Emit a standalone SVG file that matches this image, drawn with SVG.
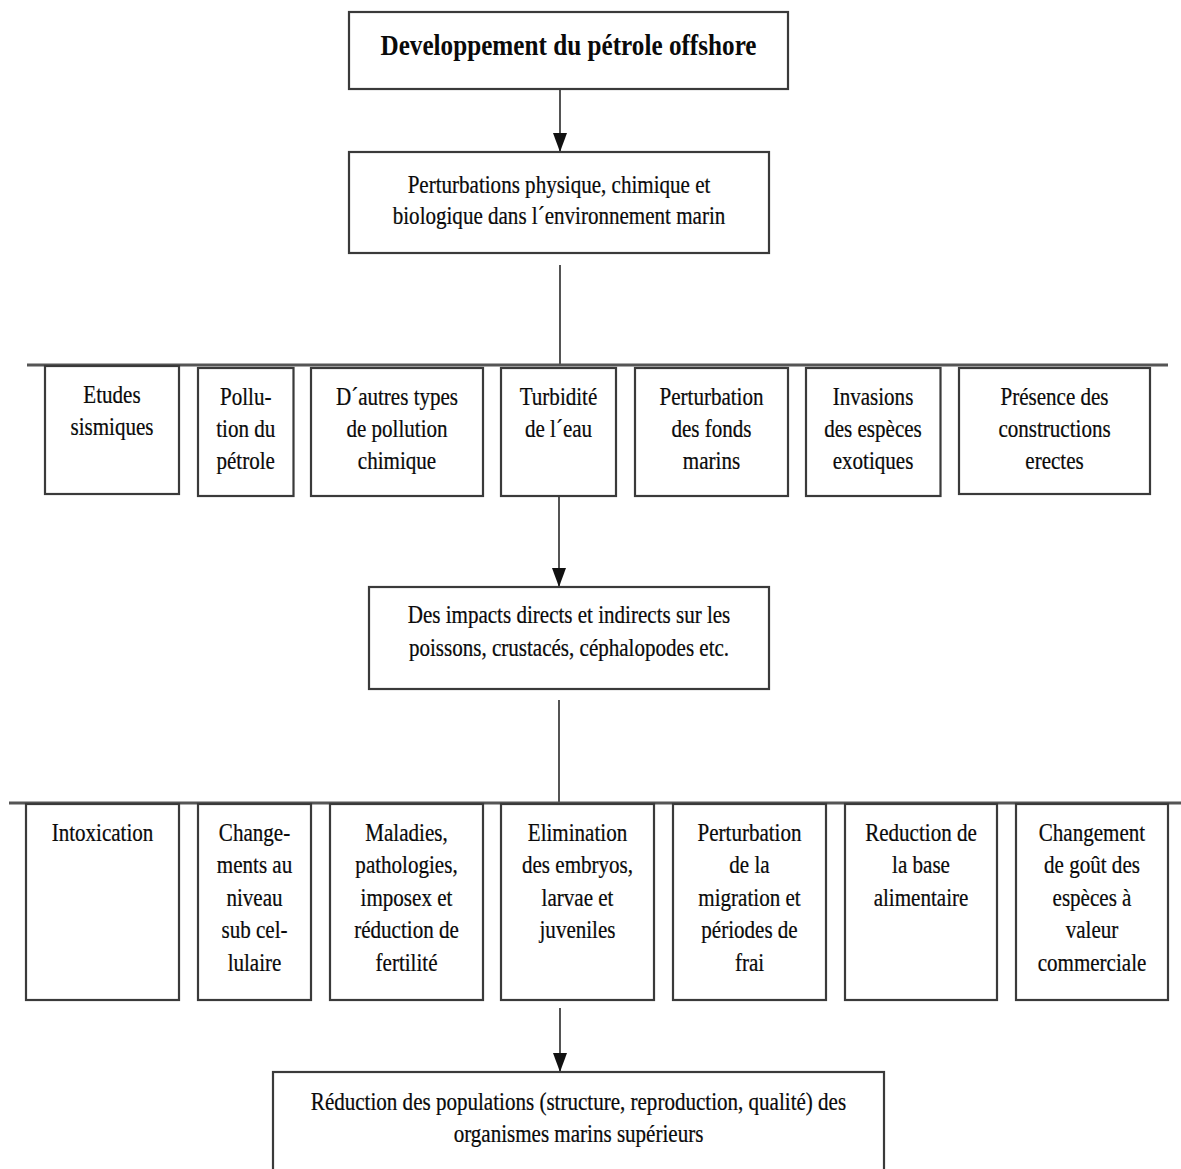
<svg xmlns="http://www.w3.org/2000/svg" width="1181" height="1169" viewBox="0 0 1181 1169">
<defs>
<style>
.box{fill:#fff;stroke:#3a3a3a;stroke-width:2.2}
.t{font-family:"Liberation Serif","Times New Roman",serif;font-size:26px;fill:#0a0a0a;stroke:#0a0a0a;stroke-width:0.25;text-anchor:middle}
.title{font-family:"Liberation Serif","Times New Roman",serif;font-size:30px;font-weight:bold;fill:#0a0a0a;text-anchor:middle}
.ln{stroke:#2a2a2a;stroke-width:1.6;fill:none}
.bar{stroke:#555;stroke-width:3.2;fill:none}
</style>
<marker id="arr" markerUnits="userSpaceOnUse" markerWidth="19" markerHeight="14" refX="19" refY="7" orient="auto" viewBox="0 0 19 14">
<path d="M0,0 L19,7 L0,14 Z" fill="#111"/>
</marker>
</defs>
<rect width="1181" height="1169" fill="#fff"/>

<g id="connectors">
<line class="ln" x1="560" y1="89" x2="560" y2="152" marker-end="url(#arr)"/>
<line class="ln" x1="560" y1="265" x2="560" y2="365"/>
<line class="bar" x1="27" y1="365" x2="1168" y2="365"/>
<line class="ln" x1="559" y1="496" x2="559" y2="587" marker-end="url(#arr)"/>
<line class="ln" x1="559" y1="700" x2="559" y2="803"/>
<line class="bar" x1="9" y1="803" x2="1181" y2="803"/>
<line class="ln" x1="560" y1="1008" x2="560" y2="1072" marker-end="url(#arr)"/>
</g>

<g id="n-top">
<rect class="box" x="349" y="12" width="439" height="77"/>
<g transform="translate(568.5 0) scale(0.84 1)"><text class="title" x="0" y="55">Developpement du pétrole offshore</text></g>
</g>

<g id="n-perturbations">
<rect class="box" x="349" y="152" width="420" height="101"/>
<g transform="translate(559 0) scale(0.81 1)">
<text class="t" x="0" y="193">Perturbations physique, chimique et</text>
<text class="t" x="0" y="224">biologique dans l´environnement marin</text>
</g>
</g>

<g id="n-etudes">
<rect class="box" x="45" y="366" width="134" height="128"/>
<g transform="translate(112 0) scale(0.81 1)">
<text class="t" x="0" y="403">Etudes</text>
<text class="t" x="0" y="435">sismiques</text>
</g>
</g>

<g id="n-pollution">
<rect class="box" x="198" y="368" width="95.5" height="128"/>
<g transform="translate(245.7 0) scale(0.81 1)">
<text class="t" x="0" y="405">Pollu-</text>
<text class="t" x="0" y="437">tion du</text>
<text class="t" x="0" y="469">pétrole</text>
</g>
</g>

<g id="n-autres">
<rect class="box" x="311" y="368" width="172" height="128"/>
<g transform="translate(397 0) scale(0.81 1)">
<text class="t" x="0" y="405">D´autres types</text>
<text class="t" x="0" y="437">de pollution</text>
<text class="t" x="0" y="469">chimique</text>
</g>
</g>

<g id="n-turbidite">
<rect class="box" x="501" y="368" width="115" height="128"/>
<g transform="translate(558.5 0) scale(0.81 1)">
<text class="t" x="0" y="405">Turbidité</text>
<text class="t" x="0" y="437">de l´eau</text>
</g>
</g>

<g id="n-fonds">
<rect class="box" x="635" y="368" width="153" height="128"/>
<g transform="translate(711.5 0) scale(0.81 1)">
<text class="t" x="0" y="405">Perturbation</text>
<text class="t" x="0" y="437">des fonds</text>
<text class="t" x="0" y="469">marins</text>
</g>
</g>

<g id="n-invasions">
<rect class="box" x="806" y="368" width="134.5" height="128"/>
<g transform="translate(873 0) scale(0.81 1)">
<text class="t" x="0" y="405">Invasions</text>
<text class="t" x="0" y="437">des espèces</text>
<text class="t" x="0" y="469">exotiques</text>
</g>
</g>

<g id="n-presence">
<rect class="box" x="959" y="368" width="191" height="126"/>
<g transform="translate(1054.5 0) scale(0.81 1)">
<text class="t" x="0" y="405">Présence des</text>
<text class="t" x="0" y="437">constructions</text>
<text class="t" x="0" y="469">erectes</text>
</g>
</g>

<g id="n-impacts">
<rect class="box" x="369" y="587" width="400" height="102"/>
<g transform="translate(569 0) scale(0.81 1)">
<text class="t" x="0" y="623">Des impacts directs et indirects sur les</text>
<text class="t" x="0" y="656">poissons, crustacés, céphalopodes etc.</text>
</g>
</g>

<g id="n-intoxication">
<rect class="box" x="26" y="804" width="153" height="196"/>
<g transform="translate(102.5 0) scale(0.81 1)">
<text class="t" x="0" y="841">Intoxication</text>
</g>
</g>

<g id="n-changements">
<rect class="box" x="198" y="804" width="113" height="196"/>
<g transform="translate(254.5 0) scale(0.81 1)">
<text class="t" x="0" y="841">Change-</text>
<text class="t" x="0" y="873.5">ments au</text>
<text class="t" x="0" y="906">niveau</text>
<text class="t" x="0" y="938.5">sub cel-</text>
<text class="t" x="0" y="971">lulaire</text>
</g>
</g>

<g id="n-maladies">
<rect class="box" x="330" y="804" width="153" height="196"/>
<g transform="translate(406.5 0) scale(0.81 1)">
<text class="t" x="0" y="841">Maladies,</text>
<text class="t" x="0" y="873.5">pathologies,</text>
<text class="t" x="0" y="906">imposex et</text>
<text class="t" x="0" y="938.5">réduction de</text>
<text class="t" x="0" y="971">fertilité</text>
</g>
</g>

<g id="n-elimination">
<rect class="box" x="501" y="804" width="153" height="196"/>
<g transform="translate(577.5 0) scale(0.81 1)">
<text class="t" x="0" y="841">Elimination</text>
<text class="t" x="0" y="873.5">des embryos,</text>
<text class="t" x="0" y="906">larvae et</text>
<text class="t" x="0" y="938.5">juveniles</text>
</g>
</g>

<g id="n-migration">
<rect class="box" x="673" y="804" width="153" height="196"/>
<g transform="translate(749.5 0) scale(0.81 1)">
<text class="t" x="0" y="841">Perturbation</text>
<text class="t" x="0" y="873.5">de la</text>
<text class="t" x="0" y="906">migration et</text>
<text class="t" x="0" y="938.5">périodes de</text>
<text class="t" x="0" y="971">frai</text>
</g>
</g>

<g id="n-reduction-base">
<rect class="box" x="845" y="804" width="152" height="196"/>
<g transform="translate(921 0) scale(0.81 1)">
<text class="t" x="0" y="841">Reduction de</text>
<text class="t" x="0" y="873.5">la base</text>
<text class="t" x="0" y="906">alimentaire</text>
</g>
</g>

<g id="n-gout">
<rect class="box" x="1016" y="804" width="152" height="196"/>
<g transform="translate(1092 0) scale(0.81 1)">
<text class="t" x="0" y="841">Changement</text>
<text class="t" x="0" y="873.5">de goût des</text>
<text class="t" x="0" y="906">espèces à</text>
<text class="t" x="0" y="938.5">valeur</text>
<text class="t" x="0" y="971">commerciale</text>
</g>
</g>

<g id="n-populations">
<rect class="box" x="273" y="1072" width="611" height="120"/>
<g transform="translate(578.5 0) scale(0.81 1)">
<text class="t" x="0" y="1110">Réduction des populations (structure, reproduction, qualité) des</text>
<text class="t" x="0" y="1142">organismes marins supérieurs</text>
</g>
</g>
</svg>
